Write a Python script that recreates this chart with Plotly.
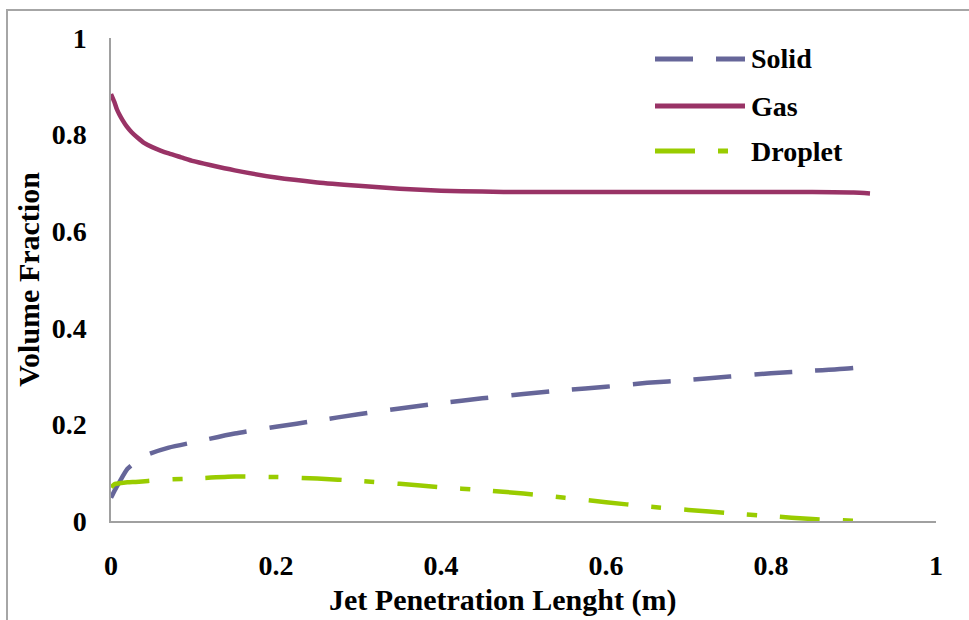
import plotly.graph_objects as go

# Volume fraction profiles along the jet penetration length
x_len = [0, 0.005, 0.01, 0.02, 0.03, 0.045, 0.07, 0.1, 0.15, 0.2, 0.25, 0.3,
         0.35, 0.4, 0.45, 0.5, 0.55, 0.6, 0.65, 0.7, 0.75, 0.8, 0.85, 0.9, 0.92]

solid = [0.048, 0.065, 0.080, 0.108, 0.122, 0.138, 0.152, 0.163, 0.181, 0.195,
         0.208, 0.221, 0.233, 0.244, 0.254, 0.263, 0.271, 0.278, 0.286, 0.292,
         0.299, 0.306, 0.311, 0.317, 0.321]

x_gas = [0, 0.004, 0.007, 0.01, 0.014, 0.019, 0.025, 0.032, 0.04, 0.05,
         0.06, 0.07, 0.085, 0.1, 0.12, 0.15, 0.2, 0.25, 0.3, 0.35, 0.4, 0.45,
         0.5, 0.6, 0.7, 0.8, 0.85, 0.9, 0.92]
gas = [0.884, 0.868, 0.853, 0.842, 0.830, 0.817, 0.805, 0.794, 0.783,
       0.774, 0.767, 0.761, 0.753, 0.745, 0.737, 0.726, 0.711, 0.701, 0.694,
       0.688, 0.684, 0.682, 0.681, 0.681, 0.681, 0.681, 0.681, 0.680, 0.678]

x_droplet = [0, 0.005, 0.01, 0.02, 0.03, 0.045, 0.07, 0.1, 0.15, 0.2, 0.25, 0.3,
             0.35, 0.4, 0.45, 0.5, 0.55, 0.6, 0.65, 0.7, 0.75, 0.8, 0.85, 0.9, 0.905]
droplet = [0.070, 0.077, 0.078, 0.080, 0.081, 0.083, 0.086, 0.088, 0.092, 0.091,
           0.088, 0.083, 0.077, 0.070, 0.064, 0.057, 0.048, 0.039, 0.030, 0.023,
           0.016, 0.010, 0.004, 0.0005, 0.0]

series_names = ["Solid", "Gas", "Droplet"]
series_colors = ["#666699", "#993366", "#99CC00"]
series_dash = ["38px,23px", "solid", "40px,23px,10px,23px"]

tick_vals = [0, 0.2, 0.4, 0.6, 0.8, 1]
tick_text = ["0", "0.2", "0.4", "0.6", "0.8", "1"]

x_title = "Jet Penetration Lenght (m)"
y_title = "Volume Fraction"

FONT = dict(family="Liberation Serif", color="black", weight="bold")

fig = go.Figure()
series_x = [x_len, x_gas, x_droplet]
series_y = [solid, gas, droplet]
for name, xs, ys, col, dash in zip(series_names, series_x, series_y,
                                    series_colors, series_dash):
    fig.add_trace(go.Scatter(x=xs, y=ys, mode="lines", name=name,
                             line=dict(color=col, width=4.5, dash=dash,
                                       shape="spline", smoothing=0.6),
                             showlegend=False))

# Hand-placed legend: long line samples with labels
legend_y = [1.0 - (59 - 38) / 483, 1.0 - (106 - 38) / 483, 1.0 - (151 - 38) / 483]
for name, col, dash, ly in zip(series_names, series_colors, series_dash, legend_y):
    fig.add_shape(type="line", xref="paper", yref="paper",
                  x0=(655 - 111) / 825, x1=(745 - 111) / 825, y0=ly, y1=ly,
                  line=dict(color=col, width=5, dash=dash))
    fig.add_annotation(xref="paper", yref="paper", x=(749 - 111) / 825, y=ly,
                       text=name, showarrow=False, xanchor="left", yanchor="middle",
                       font=dict(FONT, size=28))

# x-axis title, sitting slightly left of the axis centre
fig.add_annotation(xref="paper", yref="paper", x=(502 - 111) / 825,
                   y=-(600 - 521) / 483, text=x_title, showarrow=False,
                   xanchor="center", yanchor="middle", font=dict(FONT, size=30))

# Outer chart border
fig.add_shape(type="rect", xref="paper", yref="paper",
              x0=(7 - 111) / 825, x1=1.2, y0=-0.5, y1=(521 - 10) / 483,
              line=dict(color="#A6A6A6", width=2), layer="below")

axis_common = dict(range=[0, 1], tickvals=tick_vals, ticktext=tick_text,
                   showgrid=False, zeroline=False, showline=True,
                   linecolor="#A0A0A0", linewidth=1.5, ticks="",
                   tickfont=dict(FONT, size=28))

fig.update_layout(
    width=969, height=620,
    margin=dict(l=111, r=33, t=38, b=99),
    paper_bgcolor="white", plot_bgcolor="white",
    xaxis=dict(axis_common, ticklabelstandoff=19),
    yaxis=dict(axis_common, ticklabelstandoff=17,
               title=dict(text=y_title, standoff=3,
                          font=dict(FONT, size=30))),
)

fig.write_html("out.html")
